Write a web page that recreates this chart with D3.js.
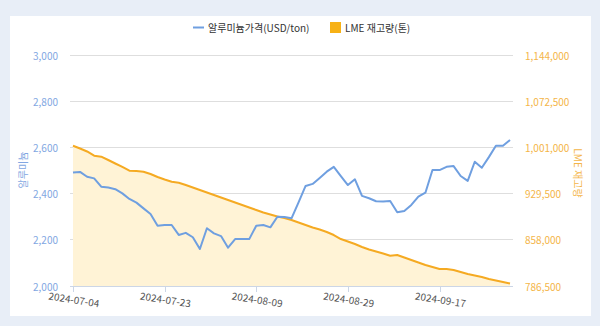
<!DOCTYPE html>
<html><head><meta charset="utf-8">
<script src="https://cdn.jsdelivr.net/npm/d3@7"></script>
<style>
html,body{margin:0;padding:0;background:#e8eef7;}
svg{display:block;font-family:"Noto Sans CJK KR","Noto Sans",sans-serif;}
</style></head>
<body><svg id="chart" width="600" height="326"></svg>
<script>
const dates = [
"2024-07-04","2024-07-05","2024-07-08","2024-07-09","2024-07-10","2024-07-11","2024-07-12","2024-07-15","2024-07-16","2024-07-17","2024-07-18","2024-07-19","2024-07-22","2024-07-23",
"2024-07-24","2024-07-25","2024-07-26","2024-07-29","2024-07-30","2024-07-31","2024-08-01","2024-08-02","2024-08-05","2024-08-06","2024-08-07","2024-08-08","2024-08-09",
"2024-08-12","2024-08-13","2024-08-14","2024-08-15","2024-08-16","2024-08-19","2024-08-20","2024-08-21","2024-08-22","2024-08-23","2024-08-27","2024-08-28","2024-08-29",
"2024-08-30","2024-09-02","2024-09-03","2024-09-04","2024-09-05","2024-09-06","2024-09-09","2024-09-10","2024-09-11","2024-09-12","2024-09-13","2024-09-16","2024-09-17",
"2024-09-18","2024-09-19","2024-09-20","2024-09-23","2024-09-24","2024-09-25","2024-09-26","2024-09-27","2024-09-30","2024-10-01"];

const priceUSD = [
2491,2494,2473,2466,2430,2426,2419,2401,2377,2361,2336,2312,2261,2264,
2264,2221,2230,2211,2160,2250,2228,2216,2166,2203,2203,2203,2261,
2264,2254,2300,2299,2293,2362,2433,2442,2468,2495,2516,2476,2437,
2462,2390,2380,2367,2366,2368,2319,2325,2351,2387,2404,2502,2502,
2516,2519,2476,2455,2538,2512,2558,2607,2607,2632];

const stockTon = [
1003600,999300,994700,988200,986600,981500,976100,970700,964900,964500,963400,959800,955200,951300,
947900,946400,942800,938900,935100,931200,927300,923500,919600,915700,911900,908000,904100,
900300,897200,894100,891700,888600,884800,880900,877000,873900,870100,865400,859200,855400,
851500,846900,843000,839900,836800,833400,834500,830600,826700,822900,819000,815900,812800,
812800,811300,808200,805100,802800,800400,797300,795000,792700,790400];

const xTickLabels = ["2024-07-04","2024-07-23","2024-08-09","2024-08-29","2024-09-17"];
const leftTicks = [2000,2200,2400,2600,2800,3000];
const rightTicks = [786500,858000,929500,1001000,1072500,1144000];
const seriesNames = ["알루미늄가격(USD/ton)","LME 재고량(톤)"];
const leftTitle = "알루미늄";
const rightTitle = "LME 재고량";

const blue = "#6f9fe0", orange = "#f5aa22", leftColor = "#82a7e2", rightColor = "#f4b548";

const svg = d3.select("#chart");
svg.append("rect").attr("x",10).attr("y",16).attr("width",581).attr("height",300).attr("fill","#fff");

const x = d3.scalePoint().domain(dates).range([73,510]);
const yL = d3.scaleLinear().domain([2000,3000]).range([286,55]);
const yR = d3.scaleLinear().domain([786500,1144000]).range([286,55]);

// gridlines
svg.append("g").selectAll("line").data(leftTicks.slice(1)).join("line")
  .attr("x1",70).attr("x2",513).attr("y1",d=>yL(d)).attr("y2",d=>yL(d))
  .attr("stroke","#dedede").attr("stroke-width",1).attr("shape-rendering","crispEdges");

// area
const area = d3.area().x((d,i)=>x(dates[i])).y0(yR(786500)).y1(d=>yR(d));
svg.append("path").datum(stockTon).attr("d",area).attr("fill","#fff3d6");
svg.append("path").datum(stockTon)
  .attr("d",d3.line().x((d,i)=>x(dates[i])).y(d=>yR(d)))
  .attr("fill","none").attr("stroke",orange).attr("stroke-width",2).attr("stroke-linejoin","round");

svg.append("path").datum(priceUSD)
  .attr("d",d3.line().x((d,i)=>x(dates[i])).y(d=>yL(d)))
  .attr("fill","none").attr("stroke",blue).attr("stroke-width",2).attr("stroke-linejoin","round");

// x axis
svg.append("line").attr("x1",70).attr("x2",513).attr("y1",286.5).attr("y2",286.5)
  .attr("stroke","#ccd6e6").attr("stroke-width",1);
const xg = svg.append("g");
xg.selectAll("line").data(xTickLabels).join("line")
  .attr("x1",d=>Math.round(x(d))+0.5).attr("x2",d=>Math.round(x(d))+0.5).attr("y1",286).attr("y2",292)
  .attr("stroke","#ccd6e6");
xg.selectAll("text").data(xTickLabels).join("text")
  .attr("transform",d=>`translate(${x(d)+1},299) rotate(9)`)
  .attr("text-anchor","middle").attr("dominant-baseline","central")
  .attr("font-size",10).attr("fill","#555").text(d=>d);

// left axis labels
svg.append("g").selectAll("text").data(leftTicks).join("text")
  .attr("x",58).attr("y",d=>yL(d)).attr("text-anchor","end").attr("dominant-baseline","central")
  .attr("font-size",10).attr("fill",leftColor).text(d=>d3.format(",")(d));
// right axis labels
svg.append("g").selectAll("text").data(rightTicks).join("text")
  .attr("x",525).attr("y",d=>yR(d)).attr("text-anchor","start").attr("dominant-baseline","central")
  .attr("font-size",10).attr("fill",rightColor).text(d=>d3.format(",")(d));

// axis titles
svg.append("text").attr("transform","translate(22,170) rotate(-90)")
  .attr("text-anchor","middle").attr("dominant-baseline","central")
  .attr("font-size",10).attr("fill",leftColor).text(leftTitle);
svg.append("text").attr("transform","translate(578,173) rotate(90)")
  .attr("text-anchor","middle").attr("dominant-baseline","central")
  .attr("font-size",10).attr("fill",rightColor).text(rightTitle);

// legend
const lg = svg.append("g");
lg.append("line").attr("x1",193).attr("x2",204).attr("y1",27.5).attr("y2",27.5).attr("stroke",blue).attr("stroke-width",2);
lg.append("text").attr("x",208).attr("y",27.5).attr("dominant-baseline","central").attr("font-size",10).attr("fill","#333").text(seriesNames[0]);
lg.append("rect").attr("x",330).attr("y",22).attr("width",11).attr("height",11).attr("fill","#f7b116");
lg.append("text").attr("x",345).attr("y",27.5).attr("dominant-baseline","central").attr("font-size",10).attr("fill","#333").text(seriesNames[1]);
</script></body></html>
